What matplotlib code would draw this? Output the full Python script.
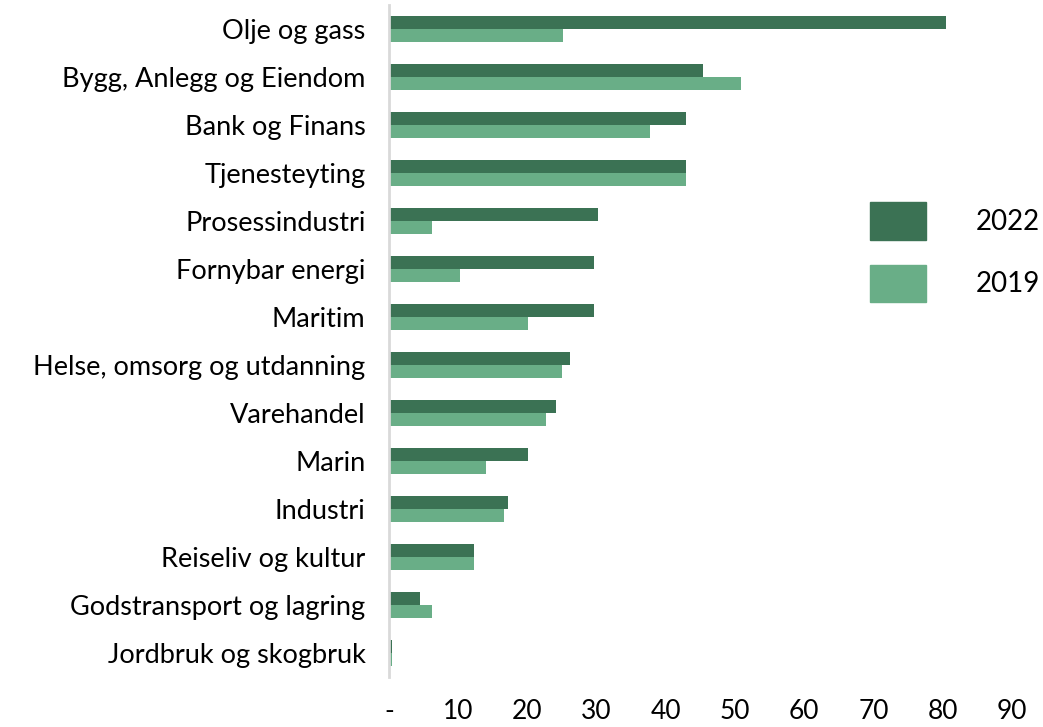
import matplotlib.pyplot as plt
import numpy as np
from matplotlib.patches import Patch

plt.rcParams['font.family'] = ['Lato', 'DejaVu Sans']

categories = ["Olje og gass", "Bygg, Anlegg og Eiendom", "Bank og Finans", "Tjenesteyting",
              "Prosessindustri", "Fornybar energi", "Maritim", "Helse, omsorg og utdanning",
              "Varehandel", "Marin", "Industri", "Reiseliv og kultur",
              "Godstransport og lagring", "Jordbruk og skogbruk"]
v2022 = [80.5, 45.4, 42.9, 42.9, 30.2, 29.6, 29.6, 26.1, 24.1, 20.1, 17.2, 12.3, 4.5, 0.4]
v2019 = [25.1, 50.9, 37.7, 42.9, 6.2, 10.2, 20.1, 25.0, 22.7, 14.0, 16.6, 12.3, 6.2, 0.4]
xticks = [0, 10, 20, 30, 40, 50, 60, 70, 80, 90]
xticklabels = ["-", "10", "20", "30", "40", "50", "60", "70", "80", "90"]

dark = "#3b7254"
light = "#69ae87"

fig = plt.figure(figsize=(10.43, 7.27), dpi=100)
ax = fig.add_axes([389 / 1043, 1 - 677 / 727, (1012 - 389) / 1043, (677 - 5) / 727])

y = np.arange(len(categories))
h = 0.27
ax.barh(y - h / 2, v2022, height=h, color=dark, label="2022")
ax.barh(y + h / 2, v2019, height=h, color=light, label="2019")

ax.set_ylim(len(categories) - 0.5, -0.5)
ax.set_xlim(0, 90)
ax.set_yticks(y)
ax.set_yticklabels(categories, fontsize=19.5)
ax.set_xticks(xticks)
ax.set_xticklabels(xticklabels, fontsize=19)
ax.tick_params(axis='both', length=0)
ax.tick_params(axis='y', pad=17)
ax.tick_params(axis='x', pad=16)

for s in ["top", "right", "bottom"]:
    ax.spines[s].set_visible(False)
ax.spines["left"].set_color("#d9d9d9")
ax.spines["left"].set_linewidth(2)

handles = [Patch(color=dark), Patch(color=light)]
fig.legend(handles, ["2022", "2019"], loc="center left", bbox_to_anchor=(845 / 1043, 1 - 252 / 727),
           frameon=False, fontsize=20, handlelength=2.0, handleheight=1.7,
           handletextpad=1.8, labelspacing=0.9)

fig.savefig("out.png", dpi=100)
